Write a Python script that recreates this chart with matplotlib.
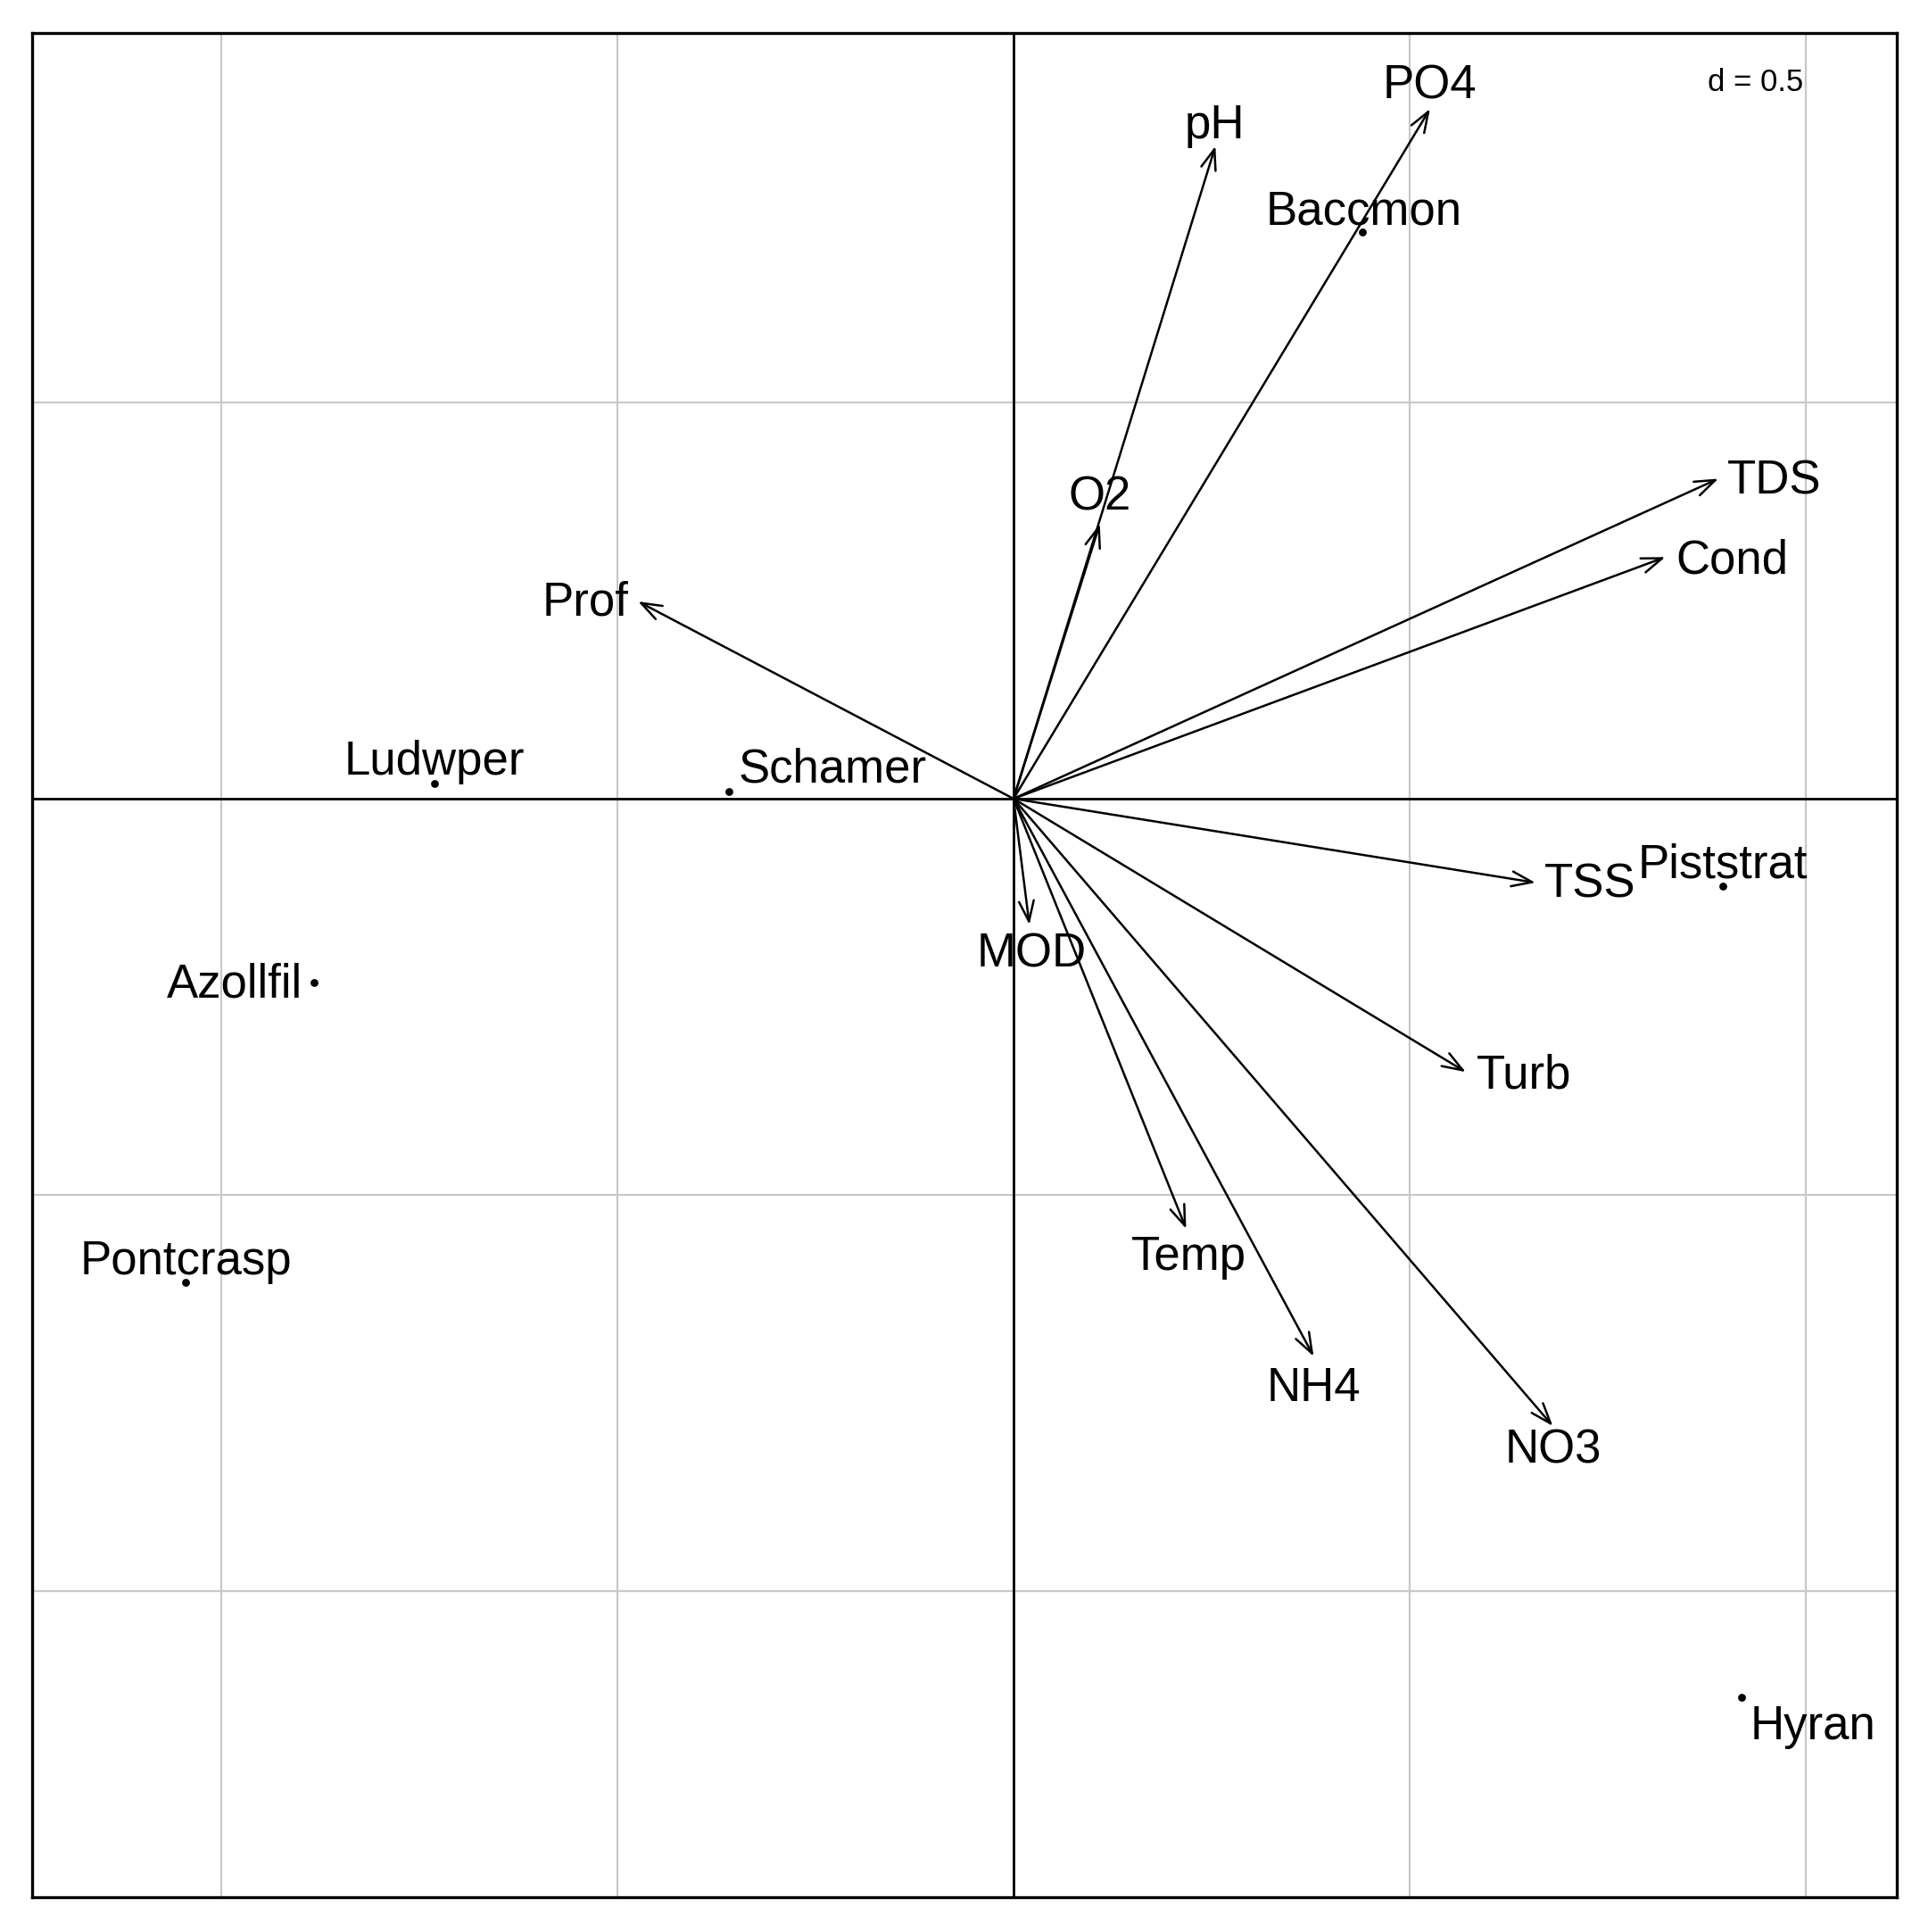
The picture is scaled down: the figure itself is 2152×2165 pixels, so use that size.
import matplotlib
matplotlib.use("Agg")
import matplotlib.pyplot as plt

plt.rcParams["font.family"] = ["Liberation Sans", "DejaVu Sans"]

# environmental variables (arrows)
env_names = ["pH", "PO4", "O2", "TDS", "Cond", "Prof", "TSS", "Turb", "MOD", "Temp", "NH4", "NO3"]
env_x = [0.255, 0.526, 0.109, 0.890, 0.823, -0.474, 0.659, 0.571, 0.020, 0.218, 0.379, 0.681]
env_y = [0.824, 0.871, 0.347, 0.404, 0.305, 0.249, -0.106, -0.345, -0.159, -0.543, -0.704, -0.792]

# species scores (points)
sp_names = ["Baccmon", "Ludwper", "Schamer", "Azollfil", "Pontcrasp", "Piststrat", "Hyran"]
sp_x = [0.440, -0.731, -0.359, -0.883, -1.045, 0.896, 0.919]
sp_y = [0.715, 0.019, 0.009, -0.232, -0.611, -0.110, -1.134]

# where the labels sit (centre of text)
env_lab_x = [0.2535, 0.526, 0.109, 0.961, 0.907, -0.541, 0.728, 0.645, 0.023, 0.221, 0.379, 0.681]
env_lab_y = [0.852, 0.902, 0.383, 0.403, 0.303, 0.249, -0.107, -0.348, -0.194, -0.577, -0.742, -0.821]
sp_lab_x = [0.442, -0.731, -0.229, -0.984, -1.045, 0.896, 1.009]
sp_lab_y = [0.743, 0.048, 0.039, -0.233, -0.582, -0.082, -1.170]

grid_vals = [-1.0, -0.5, 0.5, 1.0]

fig = plt.figure(figsize=(21.52, 21.65), dpi=100)
ax = fig.add_axes([36 / 2152, 1 - 2126 / 2165, 2090 / 2152, 2089 / 2165])
ax.set_xlim(-1.2393, 1.1154)
ax.set_ylim(-1.3869, 0.9667)

for g in grid_vals:
    ax.axvline(g, color="#c8c8c8", lw=1.6, zorder=0)
    ax.axhline(g, color="#c8c8c8", lw=1.6, zorder=0)
ax.axvline(0, color="black", lw=2.0, zorder=1)
ax.axhline(0, color="black", lw=2.0, zorder=1)

for i in range(len(env_names)):
    ax.annotate("", xy=(env_x[i], env_y[i]), xytext=(0, 0),
                arrowprops=dict(arrowstyle="->,head_length=0.55,head_width=0.2",
                                mutation_scale=30, lw=1.8, color="black",
                                shrinkA=0, shrinkB=0), zorder=3)
    ax.text(env_lab_x[i], env_lab_y[i] - 0.018, env_names[i], fontsize=38,
            ha="center", va="baseline", zorder=4)

ax.scatter(sp_x, sp_y, s=40, color="black", zorder=3, linewidths=0)
for i in range(len(sp_names)):
    ax.text(sp_lab_x[i], sp_lab_y[i] - 0.018, sp_names[i], fontsize=38,
            ha="center", va="baseline", zorder=4)

ax.text(0.924, 0.9735, "d = 0.5", transform=ax.transAxes, fontsize=25,
        ha="center", va="center")

ax.set_xticks([])
ax.set_yticks([])
for s in ax.spines.values():
    s.set_linewidth(2.4)

fig.savefig("out.png", dpi=100, facecolor="white")
